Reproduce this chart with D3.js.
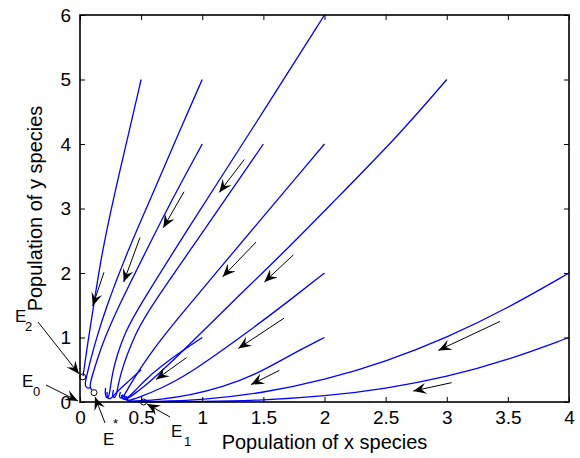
<!DOCTYPE html>
<html>
<head>
<meta charset="utf-8">
<script src="https://cdn.jsdelivr.net/npm/d3@7"></script>
<style>
  body { margin: 0; background: #fff; }
  text { font-family: "Liberation Sans", Arial, sans-serif; fill: #000; }
  .tick line { stroke: #000; stroke-width: 1; }
  .traj { fill: none; stroke: #0000ff; stroke-width: 1.3; }
</style>
</head>
<body>
<svg id="chart" width="580" height="458"></svg>
<script>
// tick values
const xTicks = [0, 0.5, 1, 1.5, 2, 2.5, 3, 3.5, 4];
const yTicks = [0, 1, 2, 3, 4, 5, 6];

// trajectories, [x, y]
const trajA = [[0.5,5],[0.405,4.22],[0.27,3.13],[0.176,2.28],[0.106,1.426],[0.057,0.837],[0.025,0.4]];
const trajB = [[1,5],[0.818,4.22],[0.573,3.13],[0.393,2.36],[0.205,1.426],[0.131,0.961],[0.086,0.651],[0.057,0.419],[0.041,0.295],[0.045,0.233],[0.065,0.209],[0.09,0.225]];
const trajC = [[1,4],[0.75,3.13],[0.546,2.36],[0.3,1.426],[0.196,0.961],[0.139,0.651],[0.102,0.419],[0.082,0.279],[0.084,0.209],[0.098,0.189]];
const trajD = [[1.5,4],[0.982,2.57],[0.559,1.426],[0.458,1.07],[0.384,0.729],[0.335,0.45],[0.311,0.248],[0.299,0.124],[0.286,0.062],[0.27,0.07],[0.266,0.124],[0.274,0.186]];
const trajE = [[2,6],[1.405,4.22],[0.982,2.98],[0.464,1.426],[0.368,1.07],[0.303,0.729],[0.266,0.45],[0.25,0.248],[0.241,0.124],[0.229,0.062],[0.213,0.07],[0.205,0.14],[0.209,0.217]];
const trajF = [[2,4],[0.982,1.71],[0.859,1.426],[0.704,1.07],[0.573,0.744],[0.474,0.465],[0.405,0.248],[0.364,0.109],[0.34,0.054],[0.323,0.07],[0.323,0.109],[0.331,0.155]];
const trajG = [[3,5],[2.61,4.14],[2.045,3.05],[1.636,2.26],[1.25,1.56],[0.9,0.9],[0.679,0.496],[0.532,0.248],[0.434,0.109],[0.385,0.047],[0.364,0.039],[0.348,0.062],[0.348,0.116]];
const trajH = [[2,2],[1.718,1.58],[1.391,1.11],[0.9,0.44],[0.654,0.202],[0.491,0.078],[0.417,0.031],[0.38,0.026],[0.364,0.047],[0.364,0.101]];
const trajI = [[2,1],[1.718,0.726],[1.448,0.431],[1.162,0.23],[0.9,0.105],[0.654,0.039],[0.491,0.016],[0.417,0.012],[0.389,0.023],[0.376,0.054],[0.376,0.093]];
const trajJ = [[1,1],[0.818,0.77],[0.654,0.54],[0.532,0.341],[0.45,0.171],[0.393,0.07],[0.36,0.039],[0.344,0.054],[0.34,0.109]];
const trajK = [[0.5,0.5],[0.409,0.341],[0.335,0.217],[0.282,0.116],[0.254,0.054],[0.233,0.047],[0.221,0.078],[0.221,0.155]];
const trajL = [[4,2],[3.5,1.455],[3,0.996],[2.5,0.625],[2,0.339],[1.5,0.14],[1,0.03],[0.6,0.006],[0.417,0.006],[0.389,0.019],[0.379,0.053],[0.379,0.085]];
const trajM = [[4,1],[3.5,0.65],[3,0.387],[2.5,0.205],[2,0.089],[1.5,0.027],[1,0.005],[0.6,0.002],[0.417,0.004],[0.389,0.019],[0.379,0.053],[0.379,0.085]];
const trajectories = [trajA, trajB, trajC, trajD, trajE, trajF, trajG, trajH, trajI, trajJ, trajK, trajL, trajM];

// direction arrows: [tailX, tailY, tipX, tipY]
const flowArrows = [
  [0.196,2.01,0.104,1.49],
  [0.491,2.55,0.357,1.86],
  [0.851,3.26,0.681,2.70],
  [1.344,3.76,1.139,3.25],
  [1.44,2.48,1.167,1.94],
  [1.745,2.28,1.508,1.86],
  [3.436,1.25,2.931,0.80],
  [3.04,0.30,2.726,0.17],
  [1.669,1.30,1.295,0.83],
  [1.63,0.49,1.399,0.27],
  [0.873,0.69,0.622,0.35]
];

// equilibria E0, E1, E2, E*
const eqPoints = [[0,0],[0.52,0],[0.022,0.39],[0.115,0.145]];

const svg = d3.select('#chart');
const plotLeft = 80, plotRight = 569, plotTop = 15, plotBottom = 402;

const x = d3.scaleLinear().domain([0, 4]).range([plotLeft, plotRight]);
const y = d3.scaleLinear().domain([0, 6]).range([plotBottom, plotTop]);

const line = d3.line()
  .x(d => x(d[0]))
  .y(d => y(d[1]))
  .curve(d3.curveBasis);

svg.append('g')
  .selectAll('path')
  .data(trajectories)
  .enter()
  .append('path')
  .attr('class', 'traj')
  .attr('d', line);

// axes with inward ticks on all four sides
const fmt = d => String(d);
svg.append('g')
  .attr('transform', `translate(0, ${plotBottom})`)
  .call(d3.axisBottom(x).tickValues(xTicks).tickFormat(fmt).tickSizeInner(-5).tickSizeOuter(0).tickPadding(9))
  .call(g => g.select('.domain').remove())
  .call(g => g.selectAll('text').style('font-size', '19px'));

svg.append('g')
  .attr('transform', `translate(0, ${plotTop})`)
  .call(d3.axisTop(x).tickValues(xTicks).tickFormat('').tickSizeInner(-5).tickSizeOuter(0))
  .call(g => g.select('.domain').remove());

svg.append('g')
  .attr('transform', `translate(${plotLeft}, 0)`)
  .call(d3.axisLeft(y).tickValues(yTicks).tickFormat(fmt).tickSizeInner(-5).tickSizeOuter(0).tickPadding(9))
  .call(g => g.select('.domain').remove())
  .call(g => g.selectAll('text').style('font-size', '19px'));

svg.append('g')
  .attr('transform', `translate(${plotRight}, 0)`)
  .call(d3.axisRight(y).tickValues(yTicks).tickFormat('').tickSizeInner(-5).tickSizeOuter(0))
  .call(g => g.select('.domain').remove());

svg.append('rect')
  .attr('x', plotLeft)
  .attr('y', plotTop)
  .attr('width', plotRight - plotLeft)
  .attr('height', plotBottom - plotTop)
  .attr('fill', 'none')
  .attr('stroke', '#000')
  .attr('stroke-width', 1.6);

// axis titles
svg.append('text')
  .attr('x', (plotLeft + plotRight) / 2)
  .attr('y', 449)
  .attr('text-anchor', 'middle')
  .style('font-size', '20px')
  .text('Population of x species');

svg.append('text')
  .attr('transform', `translate(42, ${(plotTop + plotBottom) / 2}) rotate(-90)`)
  .attr('text-anchor', 'middle')
  .style('font-size', '20px')
  .text('Population of y species');

// arrowhead in the matlab 'vback2' look
function arrowHead(g, x1, y1, x2, y2, len, wid) {
  const a = Math.atan2(y2 - y1, x2 - x1);
  const pts = [[0, 0], [-len, wid / 2], [-len * 0.62, 0], [-len, -wid / 2]]
    .map(p => [x2 + p[0] * Math.cos(a) - p[1] * Math.sin(a), y2 + p[0] * Math.sin(a) + p[1] * Math.cos(a)]);
  g.append('polygon').attr('points', pts.map(p => p.join(',')).join(' ')).attr('fill', '#000');
}

const arrows = svg.append('g');
flowArrows.forEach(d => {
  const x1 = x(d[0]), y1 = y(d[1]), x2 = x(d[2]), y2 = y(d[3]);
  arrows.append('line')
    .attr('x1', x1).attr('y1', y1).attr('x2', x2).attr('y2', y2)
    .attr('stroke', '#000').attr('stroke-width', 1);
  arrowHead(arrows, x1, y1, x2, y2, 13, 11);
});

// equilibrium markers
svg.append('g')
  .selectAll('circle')
  .data(eqPoints.slice(1))
  .enter()
  .append('circle')
  .attr('cx', d => x(d[0]))
  .attr('cy', d => y(d[1]))
  .attr('r', 3)
  .attr('fill', 'none')
  .attr('stroke', '#000')
  .attr('stroke-width', 1);

// labels with pointer arrows (pixel positions near the markers)
const ann = svg.append('g');
const pointers = [
  { from: [46, 385], tip: [78, 401] },
  { from: [170, 417], tip: [147, 404] },
  { from: [38, 322], tip: [79, 374] },
  { from: [105, 423], tip: [95, 397] }
];
pointers.forEach(p => {
  ann.append('line')
    .attr('x1', p.from[0]).attr('y1', p.from[1]).attr('x2', p.tip[0]).attr('y2', p.tip[1])
    .attr('stroke', '#000').attr('stroke-width', 1);
  arrowHead(ann, p.from[0], p.from[1], p.tip[0], p.tip[1], 13, 11);
});

function eqLabel(tx, ty, sub, sx, sy) {
  ann.append('text').attr('x', tx).attr('y', ty).style('font-size', '17px').text('E');
  ann.append('text').attr('x', sx).attr('y', sy).style('font-size', '13px').text(sub);
}
eqLabel(15, 322, '2', 25, 331);
eqLabel(22, 387, '0', 33, 396);
eqLabel(171, 437, '1', 184, 446);
eqLabel(103, 445, '*', 113, 428);
</script>
</body>
</html>
